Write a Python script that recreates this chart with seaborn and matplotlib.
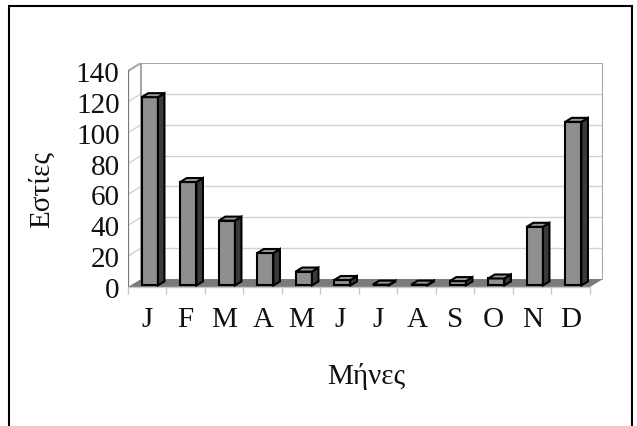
import matplotlib
matplotlib.use("Agg")
import matplotlib.pyplot as plt
from matplotlib.patches import Polygon, Rectangle
import numpy as np
import pandas as pd
import seaborn as sns

# Monthly number of fire events
months = ["Jan", "Feb", "Mar", "Apr", "May", "Jun",
          "Jul", "Aug", "Sep", "Oct", "Nov", "Dec"]
month_letters = ["J", "F", "M", "A", "M", "J", "J", "A", "S", "O", "N", "D"]
fires = [122, 67, 42, 21, 9, 3.5, 0.5, 0.5, 2.8, 4.5, 38, 106]
y_ticks = [0, 20, 40, 60, 80, 100, 120, 140]

sns.set_theme(style="white")
plt.rcParams["font.family"] = ["Liberation Serif", "DejaVu Serif"]

fig = plt.figure(figsize=(6.37, 4.27), dpi=100)
ax = fig.add_axes([128 / 637, (427 - 288) / 427, 475 / 637, 224 / 427])

# depth of the pseudo-3D box, in data units
DX, DY = 0.338, 5.16
# bar placement inside the box depth (fractions)
BAR_Z0, BAR_DEPTH = 0.2, 0.5

FRONT = "#8f8f8f"
SIDE = "#3a3a3a"
TOP = "#999999"
FLOOR = "#7a7a7a"
GRID = "#d2d2d2"
WALL = "#a8a8a8"
EDGE_W = 1.5
FS = 21

df = pd.DataFrame({"month": months, "fires": fires})
sns.barplot(data=df, x="month", y="fires", order=months, width=0.42,
            color=FRONT, saturation=1, edgecolor="black", linewidth=EDGE_W,
            ax=ax, zorder=3)
bars = list(ax.patches)

x_lo, x_hi = -0.5, len(months) - 0.5
y_top = y_ticks[-1]

# floor
ax.add_patch(Polygon([(x_lo, 0), (x_hi, 0), (x_hi + DX, DY), (x_lo + DX, DY)],
                     closed=True, fc=FLOOR, ec="none", zorder=1))

# back wall and left wall grid
for v in y_ticks[1:-1]:
    ax.plot([x_lo + DX, x_hi + DX], [v + DY, v + DY], color=GRID, lw=1, zorder=0.5)
for v in y_ticks[1:-1]:
    ax.plot([x_lo, x_lo + DX], [v, v + DY], color=GRID, lw=1, zorder=0.5)
ax.plot([x_lo + DX, x_lo + DX, x_hi + DX, x_hi + DX],
        [DY, y_top + DY, y_top + DY, DY], color=WALL, lw=1.5, zorder=0.6)
ax.plot([x_lo, x_lo + DX], [y_top, y_top + DY], color=WALL, lw=1.5, zorder=0.6)
ax.plot([x_lo, x_lo], [0, y_top], color="#7a7a7a", lw=1.6, zorder=2)

# give each bar a side and a top face
ox, oy = BAR_DEPTH * DX, BAR_DEPTH * DY
for p in bars:
    x0 = p.get_x() + BAR_Z0 * DX
    w = p.get_width()
    h = p.get_height()
    y0 = BAR_Z0 * DY
    p.set_x(x0)
    p.set_y(y0)
    x1, y1 = x0 + w, y0 + h
    side = Polygon([(x1, y0), (x1 + ox, y0 + oy), (x1 + ox, y1 + oy), (x1, y1)],
                   closed=True, fc=SIDE, ec="black", lw=EDGE_W, zorder=3)
    top = Polygon([(x0, y1), (x1, y1), (x1 + ox, y1 + oy), (x0 + ox, y1 + oy)],
                  closed=True, fc=TOP, ec="black", lw=EDGE_W, zorder=3)
    ax.add_patch(side)
    ax.add_patch(top)

ax.set_xlim(x_lo, x_hi + DX)
ax.set_ylim(0, y_top + DY)

for s in ["top", "right", "left"]:
    ax.spines[s].set_visible(False)
ax.spines["bottom"].set_color("#c8c8c8")
ax.spines["bottom"].set_linewidth(1)
ax.spines["bottom"].set_bounds(x_lo, x_hi)

ax.set_xticks(range(len(months)), month_letters)
ax.set_xticks(np.arange(x_lo, x_hi + 0.01, 1), minor=True)
ax.tick_params(axis="x", which="major", length=0, pad=14, labelsize=FS)
ax.tick_params(axis="x", which="minor", bottom=True, length=5, width=1,
               color="#c8c8c8", direction="out")
ax.set_yticks(y_ticks)
ax.tick_params(axis="y", length=0, pad=6, labelsize=FS)
for lab in ax.get_xticklabels() + ax.get_yticklabels():
    lab.set_color("#111111")

ax.set_xlabel("Μήνες", fontsize=FS, color="#111111")
ax.xaxis.set_label_coords(0.501, -0.393)
ax.xaxis.label.set_va("center")
ax.set_ylabel("Εστίες", fontsize=FS, color="#111111")
ax.yaxis.set_label_coords(-0.181, 0.4375)
ax.yaxis.label.set_va("center")

# frame around the whole chart
fig.patches.append(Rectangle((9 / 637, -0.05), 623 / 637, 1.05 - 7 / 427,
                             transform=fig.transFigure, fill=False,
                             ec="black", lw=1.5))

fig.savefig("out.png", dpi=100)
